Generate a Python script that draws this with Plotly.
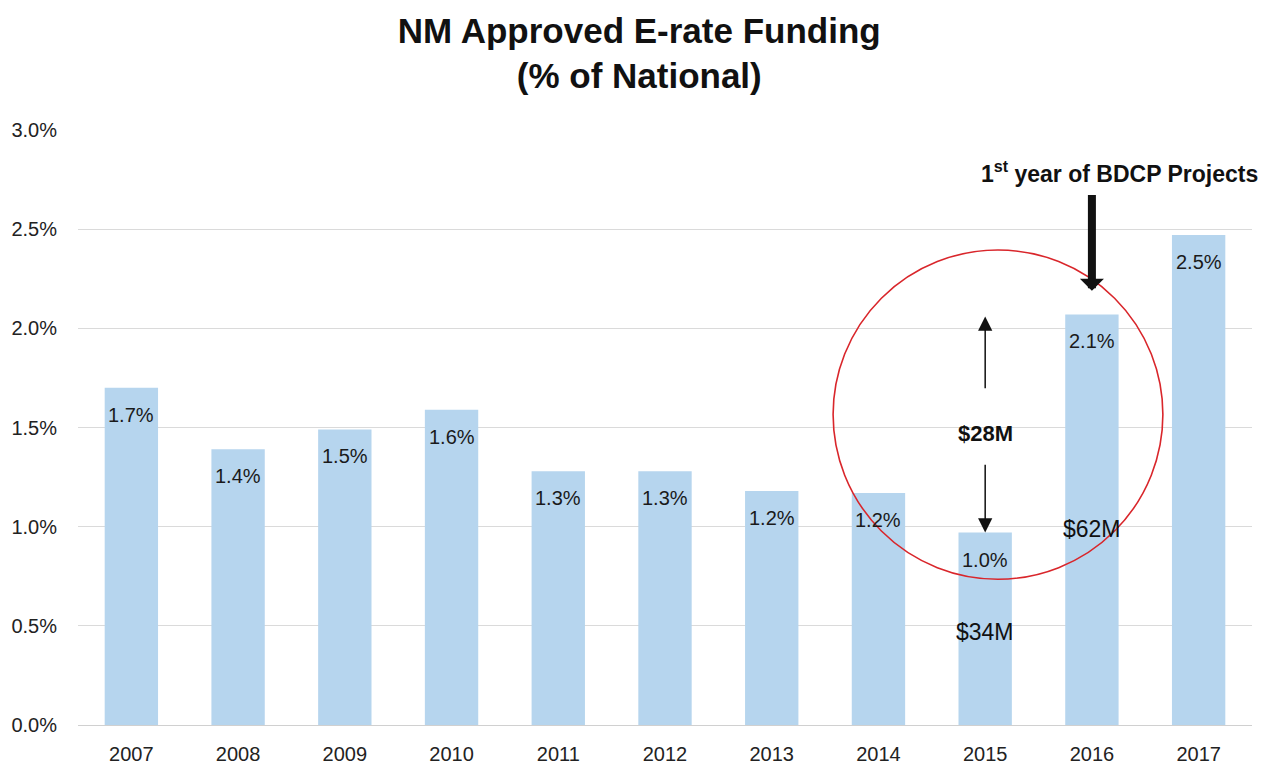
import plotly.graph_objects as go

years = ["2007", "2008", "2009", "2010", "2011", "2012", "2013", "2014", "2015", "2016", "2017"]
share_pct = [1.70, 1.39, 1.49, 1.59, 1.28, 1.28, 1.18, 1.17, 0.97, 2.07, 2.47]
share_labels = ["1.7%", "1.4%", "1.5%", "1.6%", "1.3%", "1.3%", "1.2%", "1.2%", "1.0%", "2.1%", "2.5%"]
y_ticks = [0.0, 0.5, 1.0, 1.5, 2.0, 2.5, 3.0]
y_tick_labels = ["0.0%", "0.5%", "1.0%", "1.5%", "2.0%", "2.5%", "3.0%"]

FONT = "Liberation Sans Narrow, Arial Narrow, Liberation Sans, Arial, sans-serif"
BAR = "#b6d5ee"

idx = list(range(len(years)))
i2015 = years.index("2015")
i2016 = years.index("2016")

fig = go.Figure()
fig.add_trace(go.Bar(x=idx, y=share_pct, marker=dict(color=BAR, line=dict(width=0)),
                     customdata=years, hovertemplate="%{customdata}: %{y}%<extra></extra>"))

ann = []
for i, v, lab in zip(idx, share_pct, share_labels):
    ann.append(dict(x=i, y=v, text=lab, showarrow=False, yanchor="top", yshift=-14,
                    font=dict(family=FONT, size=20, color="#1a1a1a")))

# Funding amounts
ann.append(dict(x=i2015, y=0.47, text="$34M", showarrow=False, yanchor="middle",
                font=dict(family=FONT, size=23, color="#111")))
ann.append(dict(x=i2016, y=0.99, text="$62M", showarrow=False, yanchor="middle",
                font=dict(family=FONT, size=23, color="#111")))
ann.append(dict(x=i2015, y=1.47, text="<b>$28M</b>", showarrow=False, yanchor="middle",
                font=dict(family=FONT, size=22, color="#111")))
# thin arrows
ann.append(dict(x=i2015, y=2.06, ax=i2015, ay=1.69, xref="x", yref="y", axref="x", ayref="y",
                text="", showarrow=True, arrowhead=2, arrowsize=1.9, arrowwidth=1.5,
                arrowcolor="#111"))
ann.append(dict(x=i2015, y=0.97, ax=i2015, ay=1.32, xref="x", yref="y", axref="x", ayref="y",
                text="", showarrow=True, arrowhead=2, arrowsize=1.9, arrowwidth=1.5,
                arrowcolor="#111"))
# thick arrow
ann.append(dict(x=i2016, y=2.19, ax=i2016, ay=2.68, xref="x", yref="y", axref="x", ayref="y",
                text="", showarrow=True, arrowhead=1, arrowsize=0.5, arrowwidth=8,
                arrowcolor="#111"))
ann.append(dict(x=1.0, y=1.0, xref="paper", yref="paper", xanchor="right", yanchor="middle",
                xshift=8, yshift=-42,
                text="<b>1<sup>st</sup> year of BDCP Projects</b>", showarrow=False,
                font=dict(family=FONT, size=23, color="#111")))

fig.add_shape(type="circle", xref="x", yref="y", x0=8.12 - 1.545, x1=8.12 + 1.545,
              y0=1.565 - 0.83, y1=1.565 + 0.83,
              line=dict(color="#d9262b", width=1.6), fillcolor="rgba(0,0,0,0)")

fig.update_layout(
    width=1250, height=756,
    paper_bgcolor="white", plot_bgcolor="white",
    margin=dict(l=70, r=6, t=122, b=39),
    bargap=0.5,
    showlegend=False,
    title=dict(text="<b>NM Approved E-rate Funding<br>(% of National)</b>",
               x=0.505, xanchor="center", y=0.954, yanchor="top",
               font=dict(family=FONT, size=35, color="#111")),
    annotations=ann,
    font=dict(family=FONT, color="#222"),
)
fig.update_xaxes(range=[-0.5, len(years) - 0.5], tickvals=idx, ticktext=years,
                 showgrid=False, showline=True, linecolor="#d0d0d0", zeroline=False,
                 linewidth=1, ticks="", tickfont=dict(family=FONT, size=20, color="#222"),
                 ticklabelstandoff=11, automargin=False)
fig.update_yaxes(range=[0, 3.0], tickvals=y_ticks, ticktext=y_tick_labels,
                 showgrid=True, gridcolor="#dadada", gridwidth=1, zeroline=False,
                 showline=False, ticks="", ticklabelstandoff=20, automargin=False,
                 tickfont=dict(family=FONT, size=20, color="#222"))

fig.write_html("out.html")
